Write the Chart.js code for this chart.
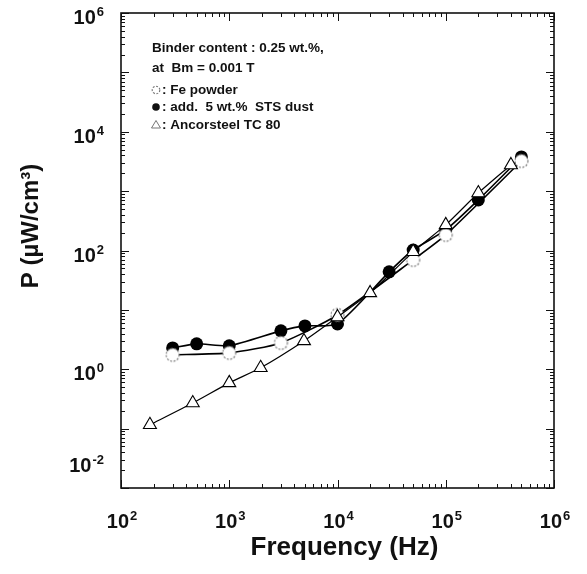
<!DOCTYPE html>
<html>
<head>
<meta charset="utf-8">
<script src="https://cdn.jsdelivr.net/npm/chart.js@4.4.1/dist/chart.umd.min.js"></script>
<style>
  body { margin: 0; background: #fff; }
  canvas { display: block; }
</style>
</head>
<body>
<canvas id="power-loss" width="587" height="574"></canvas>
<script>
// valores (frequência em Hz, P em µW/cm3)
const freqFe = [300, 1000, 3000, 10000, 50000, 100000, 500000];
const powerFe = [1.75, 1.89, 2.78, 8.2, 69.5, 183, 3220];

const freqSts = [300, 500, 1000, 3000, 5000, 10000, 30000, 50000, 100000, 200000, 500000];
const powerSts = [2.29, 2.68, 2.48, 4.43, 5.37, 5.8, 43.7, 102, 222, 711, 3770];

const freqAncor = [185, 460, 1000, 1950, 4900, 10000, 20000, 50000, 100000, 200000, 400000];
const powerAncor = [0.116, 0.27, 0.59, 1.06, 3.0, 7.6, 19.3, 95, 270, 930, 2760];

// expoentes das décadas dos eixos e quais recebem rótulo
const xDecades = [2, 3, 4, 5, 6];
const yDecades = [-2, -1, 0, 1, 2, 3, 4, 5, 6];
const xLabelExps = [2, 3, 4, 5, 6];
const yLabelExps = [-2, 0, 2, 4, 6];

const legendLines = ['Binder content : 0.25 wt.%,', 'at  Bm = 0.001 T'];
const seriesNames = [': Fe powder', ': add.  5 wt.%  STS dust', ': Ancorsteel TC 80'];
const xTitle = 'Frequency (Hz)';
const yTitle = 'P (\u00b5W/cm\u00b3)';

const FONT = '"Liberation Sans", Arial, Helvetica, sans-serif';

// marcador de círculo aberto com contorno tracejado
function makeOpenCircle(r) {
  const c = document.createElement('canvas');
  const s = Math.ceil(r * 2 + 4);
  c.width = s;
  c.height = s;
  const g = c.getContext('2d');
  g.beginPath();
  g.arc(s / 2, s / 2, r, 0, Math.PI * 2);
  g.fillStyle = '#fff';
  g.fill();
  g.setLineDash([2, 1.5]);
  g.strokeStyle = '#777';
  g.lineWidth = 1.1;
  g.stroke();
  return c;
}

function toPoints(xs, ys) {
  return xs.map((v, i) => ({ x: v, y: ys[i] }));
}

// valores de 1..9 x 10^n para as marcas menores
function decadeTicks(decades) {
  const ticks = [];
  for (let i = 0; i < decades.length - 1; i++) {
    for (let m = 1; m <= 9; m++) {
      ticks.push(m * Math.pow(10, decades[i]));
    }
  }
  ticks.push(Math.pow(10, decades[decades.length - 1]));
  return ticks;
}

function isDecade(v) {
  const l = Math.log10(v);
  return Math.abs(l - Math.round(l)) < 1e-6;
}

// escreve 10^n com expoente sobrescrito
function drawPower(ctx, exp, x, baseline, align) {
  const base = '10';
  const sup = exp < 0 ? '-' + Math.abs(exp) : String(exp);
  ctx.font = 'bold 20px ' + FONT;
  const wb = ctx.measureText(base).width;
  ctx.font = 'bold 13px ' + FONT;
  const ws = ctx.measureText(sup).width;
  const total = wb + ws + 1;
  let start = x - total / 2;
  if (align === 'right') start = x - total;
  ctx.textAlign = 'left';
  ctx.textBaseline = 'alphabetic';
  ctx.font = 'bold 20px ' + FONT;
  ctx.fillText(base, start, baseline);
  ctx.font = 'bold 13px ' + FONT;
  ctx.fillText(sup, start + wb + 1, baseline - 8);
}

const axisDecor = {
  id: 'axisDecor',
  afterDraw(chart) {
    const { ctx, chartArea: a, scales } = chart;
    const x = scales.x;
    const y = scales.y;
    ctx.save();
    ctx.strokeStyle = '#111';
    ctx.fillStyle = '#111';

    // moldura
    ctx.lineWidth = 1.6;
    ctx.strokeRect(a.left, a.top, a.right - a.left, a.bottom - a.top);

    // marcas para dentro nos quatro lados
    ctx.lineWidth = 1;
    ctx.beginPath();
    decadeTicks(xDecades).forEach((v) => {
      const px = Math.round(x.getPixelForValue(v)) + 0.5;
      const len = isDecade(v) ? 8 : 4;
      ctx.moveTo(px, a.bottom);
      ctx.lineTo(px, a.bottom - len);
      ctx.moveTo(px, a.top);
      ctx.lineTo(px, a.top + len);
    });
    decadeTicks(yDecades).forEach((v) => {
      const py = Math.round(y.getPixelForValue(v)) + 0.5;
      const len = isDecade(v) ? 8 : 4;
      ctx.moveTo(a.left, py);
      ctx.lineTo(a.left + len, py);
      ctx.moveTo(a.right, py);
      ctx.lineTo(a.right - len, py);
    });
    ctx.stroke();

    // rótulos dos eixos
    xLabelExps.forEach((e) => {
      drawPower(ctx, e, x.getPixelForValue(Math.pow(10, e)) + 1, a.bottom + 40, 'center');
    });
    yLabelExps.forEach((e) => {
      let base = y.getPixelForValue(Math.pow(10, e)) + 11;
      if (e === yLabelExps[0]) base = a.bottom - 16;
      drawPower(ctx, e, a.left - 17, base, 'right');
    });

    // títulos
    ctx.font = 'bold 26px ' + FONT;
    ctx.textAlign = 'center';
    ctx.textBaseline = 'alphabetic';
    ctx.fillText(xTitle, (a.left + a.right) / 2 + 7, a.bottom + 67);

    ctx.save();
    ctx.translate(38, 226);
    ctx.rotate(-Math.PI / 2);
    ctx.font = 'bold 24px ' + FONT;
    ctx.fillText(yTitle, 0, 0);
    ctx.restore();

    // legenda
    ctx.font = 'bold 13.5px ' + FONT;
    ctx.textAlign = 'left';
    ctx.textBaseline = 'middle';
    ctx.fillText(legendLines[0], a.left + 31, 48);
    ctx.fillText(legendLines[1], a.left + 31, 68);
    const rows = [90, 107, 125];
    seriesNames.forEach((name, i) => {
      ctx.fillText(name, a.left + 41, rows[i]);
    });
    const mx = a.left + 35;
    ctx.drawImage(legendOpen, mx - legendOpen.width / 2, rows[0] - legendOpen.height / 2);
    ctx.beginPath();
    ctx.arc(mx, rows[1], 3.8, 0, Math.PI * 2);
    ctx.fill();
    ctx.beginPath();
    ctx.moveTo(mx, rows[2] - 4.5);
    ctx.lineTo(mx + 4.5, rows[2] + 3);
    ctx.lineTo(mx - 4.5, rows[2] + 3);
    ctx.closePath();
    ctx.strokeStyle = '#666';
    ctx.lineWidth = 0.9;
    ctx.stroke();
    ctx.restore();
  },
};

const openMarker = makeOpenCircle(6.5);
const legendOpen = makeOpenCircle(3.8);

new Chart(document.getElementById('power-loss'), {
  type: 'line',
  data: {
    datasets: [
      {
        label: 'Ancorsteel TC 80',
        data: toPoints(freqAncor, powerAncor),
        borderColor: '#000',
        borderWidth: 1.2,
        pointStyle: 'triangle',
        pointRadius: 7.5,
        pointBackgroundColor: '#fff',
        pointBorderColor: '#000',
        pointBorderWidth: 1.1,
        tension: 0.2,
        order: 0,
      },
      {
        label: 'Fe powder',
        data: toPoints(freqFe, powerFe),
        borderColor: '#000',
        borderWidth: 1.6,
        pointStyle: openMarker,
        pointRadius: 6.5,
        tension: 0.2,
        order: 1,
      },
      {
        label: 'add. 5 wt.% STS dust',
        data: toPoints(freqSts, powerSts),
        borderColor: '#000',
        borderWidth: 1.6,
        pointStyle: 'circle',
        pointRadius: 6.5,
        pointBackgroundColor: '#000',
        pointBorderColor: '#000',
        pointBorderWidth: 0,
        tension: 0.2,
        order: 2,
      },
    ],
  },
  options: {
    responsive: false,
    animation: false,
    clip: false,
    layout: { padding: { left: 121, right: 33, top: 13, bottom: 86 } },
    plugins: { legend: { display: false }, tooltip: { enabled: false } },
    scales: {
      x: {
        type: 'logarithmic',
        display: false,
        min: Math.pow(10, xDecades[0]),
        max: Math.pow(10, xDecades[xDecades.length - 1]),
      },
      y: {
        type: 'logarithmic',
        display: false,
        min: Math.pow(10, yDecades[0]),
        max: Math.pow(10, yDecades[yDecades.length - 1]),
      },
    },
  },
  plugins: [axisDecor],
});
</script>
</body>
</html>
